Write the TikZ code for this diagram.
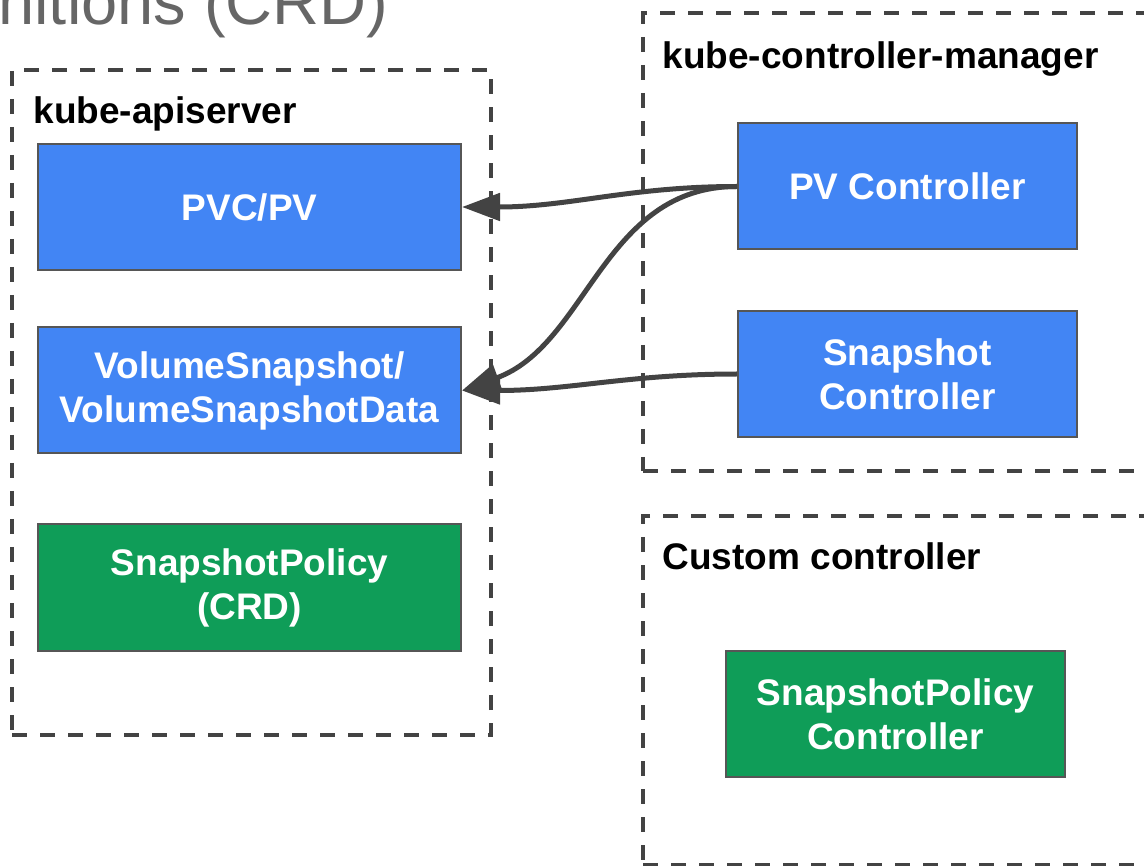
\documentclass[tikz,border=0pt]{standalone}
\usepackage{fontspec}
\setmainfont{Liberation Sans}
\usepackage{tikz}
\usetikzlibrary{arrows.meta}
\usetikzlibrary{positioning}
\definecolor{gblue}{HTML}{4285F4}
\definecolor{ggreen}{HTML}{0F9D58}
\definecolor{edge}{HTML}{434343}
\tikzset{res/.style={rectangle,draw=edge!90,line width=2pt,fill=gblue,text=white,font=\fontsize{37}{44}\selectfont\bfseries,align=center,minimum width=423pt,minimum height=126pt,inner sep=0pt}}
\tikzset{ctl/.style={res,minimum width=339pt}}
\tikzset{crd/.style={fill=ggreen}}
\tikzset{proc/.style={rectangle,draw=edge,line width=3.5pt,dash pattern=on 15pt off 13pt,inner sep=0pt}}
\tikzset{proclabel/.style={font=\fontsize{37}{44}\selectfont\bfseries,anchor=base west}}
\tikzset{call/.style={draw=edge,line width=5pt,-{Triangle[length=38pt,width=27pt]}}}

\begin{document}
\begin{tikzpicture}[x=1pt,y=-1pt]
\useasboundingbox (0,0) rectangle (1144,866);
\clip (0,0) rectangle (1144,866);

\node[anchor=base east,text=black!60,font=\fontsize{65}{70}\selectfont] (ttl) at (392,25) {nitions (CRD)};

% api server side
\node[proc,minimum width=479pt,minimum height=665pt] (apisrv) at (251.5,402.5) {};
\node[proclabel] (apisrvl) at (30,124) {kube-apiserver};
\node[res] (pvcpv) at (249.5,207) {PVC/PV};
\node[res] (vsnap) at (249.5,390.5) {VolumeSnapshot/\\VolumeSnapshotData};
\node[res,crd] (policy) at (249.5,587.5) {SnapshotPolicy\\(CRD)};

% controller manager
\node[proc,minimum width=557pt,minimum height=458pt] (ctlmgr) at (921.5,242) {};
\node[proclabel] (ctlmgrl) at (659,69) {kube-controller-manager};
\node[ctl] (pvctl) at (907.5,186.5) {PV Controller};
\node[ctl] (snapctl) at (907.5,374) {Snapshot\\Controller};

% custom controller
\node[proc,minimum width=557pt,minimum height=349pt] (customctl) at (921.5,690.5) {};
\node[proclabel] (customctll) at (659,569) {Custom controller};
\node[ctl,crd] (policyctl) at (895.5,714) {SnapshotPolicy\\Controller};

\draw[call] (pvctl.west) to[out=180,in=0] (pvcpv.east);
\draw[call] (pvctl.west) to[out=180,in=20] (vsnap.east);
\draw[call] (snapctl.west) to[out=180,in=0] (vsnap.east);

\end{tikzpicture}
\end{document}
